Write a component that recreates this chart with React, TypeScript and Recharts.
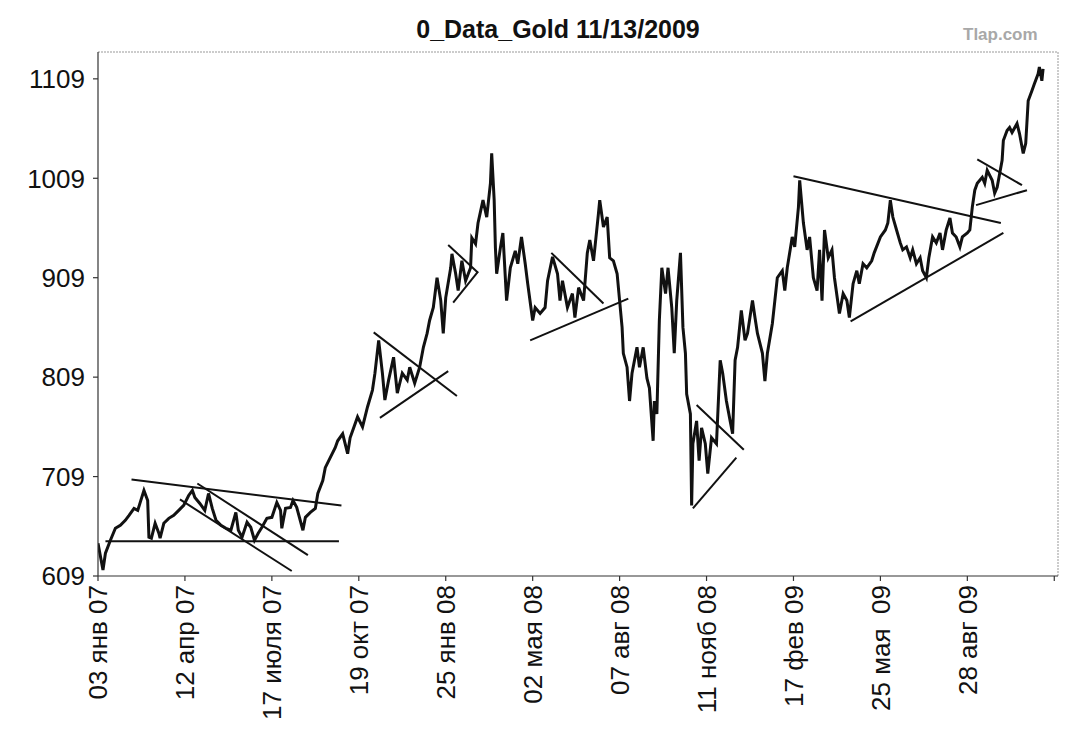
import React from "react";
import { ComposedChart, Line, XAxis, YAxis, ReferenceLine } from "recharts";

// trading-day index since 03 Jan 2007 and the gold price
const tradingDay = [
  0, 4, 6, 10, 14, 18, 22, 25, 29, 32, 34, 37, 40, 41, 43, 46, 49, 50, 53, 57, 61, 65, 69, 73, 76, 78, 82, 86, 89, 92,
  95, 99, 103, 107, 111, 113, 116, 120, 123, 126, 129, 132, 136, 140, 144, 147, 148, 151, 155, 157, 160, 165, 167, 171, 175, 177, 181, 183, 187, 191,
  193, 197, 201, 203, 209, 213, 217, 221, 223, 226, 229, 231, 234, 238, 241, 245, 249, 251, 255, 259, 262, 265, 267, 270, 273, 276, 278, 280, 284, 285,
  288, 290, 293, 296, 300, 301, 304, 306, 310, 313, 316, 317, 319, 320, 321, 324, 326, 329, 332, 336, 338, 341, 344, 346, 350, 352, 356, 360, 362, 366,
  370, 372, 374, 378, 382, 384, 387, 391, 394, 396, 399, 403, 404, 407, 410, 412, 415, 418, 420, 422, 423, 426, 428, 430, 434, 436, 439, 442, 444, 447,
  448, 450, 452, 454, 457, 459, 462, 464, 466, 469, 471, 473, 474, 477, 478, 479, 482, 484, 486, 489, 491, 494, 498, 501, 503, 506, 509, 511, 513, 515,
  518, 521, 523, 527, 529, 531, 535, 537, 539, 543, 545, 547, 551, 553, 555, 559, 561, 564, 565, 568, 571, 573, 576, 579, 581, 583, 585, 588, 591, 593,
  597, 600, 603, 605, 608, 611, 613, 616, 619, 623, 625, 630, 634, 636, 638, 640, 643, 646, 648, 651, 654, 656, 659, 662, 664, 667, 669, 672, 675, 678,
  680, 683, 686, 688, 691, 694, 696, 700, 702, 704, 706, 708, 712, 714, 716, 720, 722, 724, 728, 729, 732, 734, 736, 740, 742, 745, 747, 749, 752, 754,
  757, 758, 760, 761,
];
const goldPrice = [
  642, 615, 632, 645, 657, 660, 665, 670, 677, 675, 683, 695, 685, 648, 647, 662, 652, 647, 662, 667, 670, 675, 680, 690, 695, 688, 682, 675, 692, 677,
  665, 660, 657, 655, 673, 655, 648, 663, 658, 645, 652, 658, 667, 668, 683, 675, 657, 677, 678, 685, 678, 655, 668, 673, 677, 692, 705, 718, 728, 738,
  745, 752, 732, 748, 769, 759, 779, 796, 813, 846, 813, 786, 806, 829, 793, 813, 806, 819, 803, 819, 839, 853, 866, 879, 909, 886, 853, 889, 919, 933,
  913, 896, 926, 906, 919, 949, 943, 964, 987, 970, 1004, 1034, 987, 939, 913, 939, 954, 886, 919, 936, 923, 950, 923, 903, 866, 879, 873, 879, 906, 930,
  913, 886, 906, 879, 893, 869, 899, 886, 934, 947, 926, 974, 987, 960, 970, 929, 926, 913, 886, 859, 833, 819, 785, 813, 839, 819, 839, 808, 798, 745,
  785, 772, 866, 919, 893, 919, 879, 833, 886, 934, 859, 833, 792, 772, 680, 742, 765, 725, 758, 742, 712, 748, 742, 826, 813, 785, 765, 752, 826, 839,
  876, 846, 853, 886, 869, 853, 833, 805, 833, 863, 886, 909, 916, 896, 919, 950, 940, 980, 1007, 964, 937, 950, 909, 896, 937, 886, 957, 929, 937, 909,
  873, 893, 886, 869, 903, 916, 903, 923, 919, 926, 934, 950, 957, 964, 987, 970, 957, 944, 937, 940, 929, 937, 923, 929, 916, 909, 929, 950, 944, 954,
  937, 957, 969, 954, 950, 940, 950, 954, 957, 980, 997, 1004, 1010, 1004, 1017, 1007, 994, 1000, 1027, 1047, 1057, 1060, 1055, 1064, 1054, 1034, 1044, 1087, 1097, 1104,
  1114, 1121, 1107, 1119,
];

// x-axis ticks (every 70 trading days) and their labels
const tickDays = [0, 70, 140, 210, 280, 350, 420, 490, 560, 630, 700, 770];
const tickLabels = [
  "03 янв 07", "12 апр 07", "17 июля 07", "19 окт 07", "25 янв 08", "02 мая 08",
  "07 авг 08", "11 нояб 08", "17 фев 09", "25 мая  09", "28 авг 09", "",
];
const priceTicks = [609, 709, 809, 909, 1009, 1109];

// hand-drawn trend lines (start day, start price, end day, end price)
const trendStartDay = [27, 6, 80, 66, 222, 227, 282, 286, 365, 348, 482, 479, 560, 606, 708, 707];
const trendStartPrice = [706, 644, 702, 686, 854, 768, 942, 884, 934, 846, 781, 677, 1011, 865, 1028, 982];
const trendEndDay = [196, 194, 169, 156, 289, 282, 306, 306, 407, 427, 520, 514, 727, 729, 744, 748];
const trendEndPrice = [680, 644, 630, 614, 790, 815, 914, 915, 883, 888, 736, 728, 964, 954, 1002, 997];

const X_MAX = 773;
const Y_MIN = 609;
const Y_MAX = 1136;

const data = tradingDay.map((d, i) => ({ day: d, price: goldPrice[i] }));
const trends = trendStartDay.map((d, i) => ({
  x1: d,
  y1: trendStartPrice[i],
  x2: trendEndDay[i],
  y2: trendEndPrice[i],
}));

const FONT = "'Liberation Sans', Arial, Helvetica, sans-serif";

const XTick = (props: any) => {
  const { x, y, payload } = props;
  const idx = tickDays.indexOf(payload.value);
  const label = idx >= 0 ? tickLabels[idx] : "";
  return (
    <text
      x={x}
      y={y}
      transform={`rotate(-90, ${x}, ${y})`}
      textAnchor="end"
      dy="0.36em"
      fontSize={26}
      fill="#111"
      fontFamily={FONT}
      style={{ whiteSpace: "pre" }}
    >
      {label}
    </text>
  );
};

const YTick = (props: any) => {
  const { x, y, payload } = props;
  return (
    <text x={x} y={y} textAnchor="end" dy="0.36em" fontSize={26} fill="#111" fontFamily={FONT}>
      {payload.value}
    </text>
  );
};

export default function App() {
  return (
    <div
      style={{
        position: "absolute",
        left: 0,
        top: 0,
        width: 1076,
        height: 750,
        background: "#ffffff",
        overflow: "hidden",
      }}
    >
      <div
        style={{
          position: "absolute",
          left: 558,
          top: 17,
          transform: "translateX(-50%)",
          fontFamily: FONT,
          fontWeight: "bold",
          fontSize: 25,
          lineHeight: "25px",
          whiteSpace: "nowrap",
          color: "#111",
        }}
      >
        0_Data_Gold 11/13/2009
      </div>
      <div
        style={{
          position: "absolute",
          left: 963,
          top: 26,
          fontFamily: FONT,
          fontWeight: "bold",
          fontSize: 17,
          lineHeight: "17px",
          color: "#a8a8a8",
          whiteSpace: "nowrap",
        }}
      >
        Tlap.com
      </div>
      <div style={{ position: "absolute", left: 0, top: 0 }}>
        <ComposedChart
          width={1076}
          height={750}
          data={data}
          margin={{ top: 52, right: 18, left: 0, bottom: 0 }}
        >
          <XAxis
            type="number"
            dataKey="day"
            domain={[0, X_MAX]}
            ticks={tickDays}
            allowDataOverflow
            height={174}
            tickSize={5}
            tickMargin={4}
            tick={<XTick />}
            axisLine={{ stroke: "#333", strokeWidth: 1.2 }}
            tickLine={{ stroke: "#333", strokeWidth: 1.2 }}
            interval={0}
          />
          <YAxis
            type="number"
            domain={[Y_MIN, Y_MAX]}
            ticks={priceTicks}
            allowDataOverflow
            width={98}
            tickSize={5}
            tickMargin={8}
            tick={<YTick />}
            axisLine={{ stroke: "#333", strokeWidth: 1.2 }}
            tickLine={{ stroke: "#333", strokeWidth: 1.2 }}
            interval={0}
          />
          <ReferenceLine
            y={Y_MAX}
            stroke="#999"
            strokeWidth={1}
            strokeDasharray="2 1"
            ifOverflow="visible"
          />
          <ReferenceLine
            x={X_MAX}
            stroke="#999"
            strokeWidth={1}
            strokeDasharray="2 1"
            ifOverflow="visible"
          />
          {trends.map((t, i) => (
            <ReferenceLine
              key={i}
              segment={[
                { x: t.x1, y: t.y1 },
                { x: t.x2, y: t.y2 },
              ]}
              stroke="#111"
              strokeWidth={2}
              ifOverflow="visible"
            />
          ))}
          <Line
            type="linear"
            dataKey="price"
            stroke="#111"
            strokeWidth={3}
            dot={false}
            isAnimationActive={false}
          />
        </ComposedChart>
      </div>
    </div>
  );
}
